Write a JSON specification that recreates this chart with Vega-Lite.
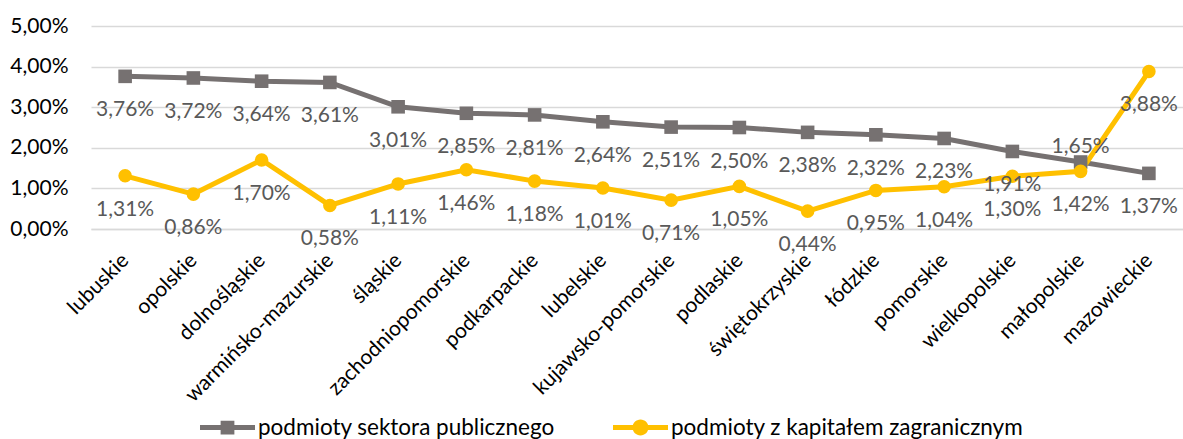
{
  "$schema": "https://vega.github.io/schema/vega-lite/v6.json",
  "width": 1092,
  "height": 203,
  "autosize": {"type": "none"},
  "padding": {"left": 91, "top": 26, "right": 0, "bottom": 210},
  "background": "white",
  "config": {
    "locale": {"number": {"decimal": ",", "thousands": " ", "grouping": [3], "currency": ["", " zł"]}},
    "font": "Lato",
    "view": {"stroke": null}
  },
  "data": {
    "values": [
      {"region": "lubuskie", "series": "podmioty sektora publicznego", "value": 0.0376},
      {"region": "opolskie", "series": "podmioty sektora publicznego", "value": 0.0372},
      {"region": "dolnośląskie", "series": "podmioty sektora publicznego", "value": 0.0364},
      {"region": "warmińsko-mazurskie", "series": "podmioty sektora publicznego", "value": 0.0361},
      {"region": "śląskie", "series": "podmioty sektora publicznego", "value": 0.0301},
      {"region": "zachodniopomorskie", "series": "podmioty sektora publicznego", "value": 0.0285},
      {"region": "podkarpackie", "series": "podmioty sektora publicznego", "value": 0.0281},
      {"region": "lubelskie", "series": "podmioty sektora publicznego", "value": 0.0264},
      {"region": "kujawsko-pomorskie", "series": "podmioty sektora publicznego", "value": 0.0251},
      {"region": "podlaskie", "series": "podmioty sektora publicznego", "value": 0.0250},
      {"region": "świętokrzyskie", "series": "podmioty sektora publicznego", "value": 0.0238},
      {"region": "łódzkie", "series": "podmioty sektora publicznego", "value": 0.0232},
      {"region": "pomorskie", "series": "podmioty sektora publicznego", "value": 0.0223},
      {"region": "wielkopolskie", "series": "podmioty sektora publicznego", "value": 0.0191},
      {"region": "małopolskie", "series": "podmioty sektora publicznego", "value": 0.0165},
      {"region": "mazowieckie", "series": "podmioty sektora publicznego", "value": 0.0137},
      {"region": "lubuskie", "series": "podmioty z kapitałem zagranicznym", "value": 0.0131},
      {"region": "opolskie", "series": "podmioty z kapitałem zagranicznym", "value": 0.0086},
      {"region": "dolnośląskie", "series": "podmioty z kapitałem zagranicznym", "value": 0.0170},
      {"region": "warmińsko-mazurskie", "series": "podmioty z kapitałem zagranicznym", "value": 0.0058},
      {"region": "śląskie", "series": "podmioty z kapitałem zagranicznym", "value": 0.0111},
      {"region": "zachodniopomorskie", "series": "podmioty z kapitałem zagranicznym", "value": 0.0146},
      {"region": "podkarpackie", "series": "podmioty z kapitałem zagranicznym", "value": 0.0118},
      {"region": "lubelskie", "series": "podmioty z kapitałem zagranicznym", "value": 0.0101},
      {"region": "kujawsko-pomorskie", "series": "podmioty z kapitałem zagranicznym", "value": 0.0071},
      {"region": "podlaskie", "series": "podmioty z kapitałem zagranicznym", "value": 0.0105},
      {"region": "świętokrzyskie", "series": "podmioty z kapitałem zagranicznym", "value": 0.0044},
      {"region": "łódzkie", "series": "podmioty z kapitałem zagranicznym", "value": 0.0095},
      {"region": "pomorskie", "series": "podmioty z kapitałem zagranicznym", "value": 0.0104},
      {"region": "wielkopolskie", "series": "podmioty z kapitałem zagranicznym", "value": 0.0130},
      {"region": "małopolskie", "series": "podmioty z kapitałem zagranicznym", "value": 0.0142},
      {"region": "mazowieckie", "series": "podmioty z kapitałem zagranicznym", "value": 0.0388}
    ]
  },
  "encoding": {
    "x": {
      "field": "region",
      "type": "nominal",
      "sort": null,
      "axis": {
        "title": null,
        "labelAngle": -45,
        "labelAlign": "right",
        "labelBaseline": "middle",
        "labelFontSize": 21,
        "labelColor": "#000000",
        "labelPadding": 28,
        "labelLimit": 400,
        "ticks": false,
        "domain": true,
        "domainColor": "#d9d9d9",
        "domainWidth": 1.5,
        "grid": false,
        "labelOverlap": false
      }
    },
    "y": {
      "field": "value",
      "type": "quantitative",
      "scale": {"domain": [0, 0.05], "nice": false},
      "axis": {
        "title": null,
        "values": [0, 0.01, 0.02, 0.03, 0.04, 0.05],
        "format": ".2%",
        "labelFontSize": 21,
        "labelColor": "#000000",
        "labelPadding": 23,
        "ticks": false,
        "domain": false,
        "grid": true,
        "gridColor": "#d9d9d9",
        "gridWidth": 1.5
      }
    }
  },
  "layer": [
    {
      "mark": {"type": "line", "strokeWidth": 5},
      "encoding": {
        "detail": {"field": "series", "type": "nominal"},
        "color": {
          "condition": {"test": "datum.series === 'podmioty sektora publicznego'", "value": "#767171"},
          "value": "#FFC000"
        }
      }
    },
    {
      "mark": {"type": "point", "filled": true, "opacity": 1, "size": 185},
      "encoding": {
        "shape": {
          "condition": {"test": "datum.series === 'podmioty sektora publicznego'", "value": "square"},
          "value": "circle"
        },
        "color": {
          "condition": {"test": "datum.series === 'podmioty sektora publicznego'", "value": "#767171"},
          "value": "#FFC000"
        }
      }
    },
    {
      "transform": [{"filter": "!(datum.region === 'małopolskie' && datum.series === 'podmioty sektora publicznego')"}],
      "mark": {"type": "text", "dy": 34, "fontSize": 21, "font": "Lato"},
      "encoding": {
        "text": {"field": "value", "type": "quantitative", "format": ".2%"},
        "color": {"value": "#595959"}
      }
    },
    {
      "transform": [{"filter": "datum.region === 'małopolskie' && datum.series === 'podmioty sektora publicznego'"}],
      "mark": {"type": "text", "dy": -15, "fontSize": 21, "font": "Lato"},
      "encoding": {
        "text": {"field": "value", "type": "quantitative", "format": ".2%"},
        "color": {"value": "#595959"}
      }
    },
    {
      "mark": {"type": "point", "filled": true, "size": 0, "strokeWidth": 0},
      "encoding": {
        "shape": {
          "field": "series",
          "type": "nominal",
          "scale": {
            "domain": ["podmioty sektora publicznego", "podmioty z kapitałem zagranicznym"],
            "range": [
              "M-1,-0.09L1,-0.09L1,0.09L-1,0.09Z M-0.25,-0.25L0.25,-0.25L0.25,0.25L-0.25,0.25Z",
              "M-1,-0.09L1,-0.09L1,0.09L-1,0.09Z M0.29,0A0.29,0.29 0 1,1 -0.29,0A0.29,0.29 0 1,1 0.29,0Z"
            ]
          },
          "legend": {
            "orient": "none",
            "legendX": 109,
            "legendY": 374,
            "direction": "horizontal",
            "title": null,
            "symbolSize": 3025,
            "symbolOpacity": 1,
            "symbolStrokeWidth": 0,
            "labelFontSize": 22.5,
            "labelColor": "#000000",
            "labelOffset": 3,
            "labelLimit": 500,
            "columnPadding": 58,
            "encode": {"symbols": {"update": {"opacity": {"value": 1}, "fillOpacity": {"value": 1}, "size": {"value": 3025}}}}
          }
        },
        "color": {
          "field": "series",
          "type": "nominal",
          "scale": {
            "domain": ["podmioty sektora publicznego", "podmioty z kapitałem zagranicznym"],
            "range": ["#767171", "#FFC000"]
          },
          "legend": {
            "orient": "none",
            "legendX": 109,
            "legendY": 374,
            "direction": "horizontal",
            "title": null,
            "symbolSize": 3025,
            "symbolOpacity": 1,
            "symbolStrokeWidth": 0,
            "labelFontSize": 22.5,
            "labelColor": "#000000",
            "labelOffset": 3,
            "labelLimit": 500,
            "columnPadding": 58,
            "encode": {"symbols": {"update": {"opacity": {"value": 1}, "fillOpacity": {"value": 1}, "size": {"value": 3025}}}}
          }
        }
      }
    }
  ]
}
